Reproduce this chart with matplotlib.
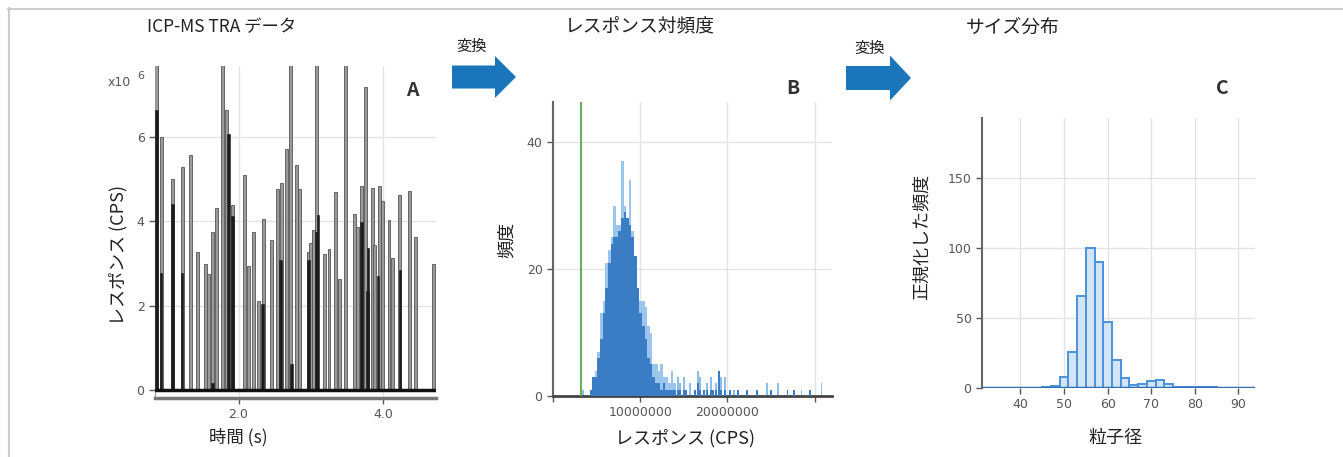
import numpy as np
import matplotlib
matplotlib.use("Agg")
import matplotlib.pyplot as plt
from matplotlib.patches import Polygon

plt.rcParams['font.family'] = ['Noto Sans CJK JP', 'DejaVu Sans']

# ---- panel A: TRA signal (time in s, response in 1e6 CPS)
gray_t = [0.86, 0.93, 1.09, 1.22, 1.33, 1.43, 1.54, 1.58, 1.64, 1.70,
          1.78, 1.83, 1.92, 2.08, 2.14, 2.21, 2.27, 2.35, 2.46, 2.54,
          2.60, 2.66, 2.72, 2.80, 2.84, 2.97, 2.99, 3.04, 3.08, 3.19,
          3.25, 3.34, 3.40, 3.48, 3.60, 3.65, 3.70, 3.76, 3.85, 3.88,
          3.95, 3.99, 4.08, 4.13, 4.23, 4.36, 4.45, 4.70]
gray_h = [8.5, 6.02, 5.02, 5.30, 5.58, 3.28, 2.98, 2.76, 3.75, 4.33,
          8.5, 6.65, 4.40, 5.11, 2.93, 3.75, 2.11, 4.07, 3.56, 4.77,
          4.91, 5.72, 8.5, 5.35, 4.77, 3.27, 3.50, 3.80, 8.5, 3.23,
          3.35, 4.69, 2.62, 8.5, 4.19, 3.87, 4.85, 7.21, 4.79, 3.43,
          4.85, 4.49, 4.03, 3.12, 4.63, 4.73, 3.63, 3.00]
dark_t = [0.865, 0.93, 1.09, 1.22, 1.64, 1.86, 1.92, 2.33, 2.58, 2.73,
          2.97, 3.08, 3.10, 3.70, 3.78, 3.79, 3.93, 4.23]
dark_h = [6.65, 2.78, 4.41, 2.78, 0.16, 6.08, 4.13, 2.03, 3.08, 0.61,
          3.08, 3.76, 4.15, 3.99, 2.35, 3.38, 2.70, 2.85]

# ---- panel B: response histogram (CPS, counts)
main_start = 4.2e6
main_width = 3e5
main_light = [1, 3, 4, 7, 13, 15, 21, 23, 25, 30, 27, 27, 37, 30, 28, 34, 26,
              20, 17, 15, 15, 14, 11, 10, 5, 5, 4, 5, 3, 3, 2, 4, 2]
main_dark = [1, 3, 3, 6, 9, 13, 17, 21, 24, 25, 25, 26, 28, 29, 28, 27, 25,
             22, 17, 13, 11, 9, 6, 5, 3, 2, 2, 1, 2, 1, 1, 1, 1]
tail_pos = [3.49e6, 14.3e6, 14.6e6, 15.0e6, 15.3e6, 15.7e6, 16.3e6, 16.6e6,
            16.9e6, 17.3e6, 17.7e6, 18.1e6, 18.4e6, 18.7e6, 19.0e6, 19.3e6,
            19.7e6, 20.3e6, 20.8e6, 21.2e6, 22.3e6, 23.4e6, 24.5e6, 25.0e6,
            25.8e6, 26.9e6, 27.6e6, 28.5e6, 29.5e6, 30.8e6]
tail_light = [1, 3, 2, 3, 1, 2, 1, 4, 3, 1, 2, 3, 1, 2, 4, 3, 3, 1, 1, 1,
              1, 1, 2, 1, 2, 1, 1, 1, 1, 2]
tail_dark = [0, 1, 1, 1, 1, 0, 1, 2, 1, 1, 1, 1, 1, 1, 4, 1, 1, 1, 0, 1,
             1, 1, 0, 1, 0, 1, 1, 0, 1, 0]
threshold = 3.18e6

# ---- panel C: size distribution
size_bins = [46, 48, 50, 52, 54, 56, 58, 60, 62, 64, 66, 68, 70, 72, 74,
             76, 78, 80, 82, 84]
size_freq = [0.4, 1.5, 8, 26, 66, 100, 90, 47, 20, 7, 2, 3, 5, 6, 3,
             1, 1, 1, 1, 1]

W, H = 1343, 457
fig = plt.figure(figsize=(W / 100, H / 100), dpi=100)
fig.patch.set_facecolor('white')


def px_axes(l, t, r, b):
    return fig.add_axes([l / W, 1 - b / H, (r - l) / W, (b - t) / H])


tick_font = dict(family=['Liberation Sans Narrow', 'DejaVu Sans'], size=9)
tick_col = '#555555'
grid_col = '#e3e3e3'


def style(ax):
    for s in ['top', 'right']:
        ax.spines[s].set_visible(False)
    ax.tick_params(colors=tick_col, length=4, width=1, labelsize=9)
    ax.grid(True, color=grid_col, lw=1)
    ax.set_axisbelow(True)
    for lab in ax.get_xticklabels() + ax.get_yticklabels():
        lab.set_fontfamily(tick_font['family'])


# panel A
axA = px_axes(155, 66, 436, 398)
axA.bar(gray_t, gray_h, width=0.04, color='#9a9a9a', edgecolor='#555555', lw=0.6, zorder=2)
axA.bar(dark_t, dark_h, width=0.035, color='#1c1c1c', edgecolor='#1c1c1c', lw=0.4, zorder=3)
axA.axhline(0, color='#111111', lw=2.5, zorder=4)
axA.set_xlim(0.845, 4.73)
axA.set_ylim(-0.2, 7.7)
axA.set_xticks([2.0, 4.0])
axA.set_xticklabels(['2.0', '4.0'])
axA.set_yticks([0, 2, 4, 6])
axA.spines['left'].set_color('#999999')
axA.spines['bottom'].set_color('#777777')
axA.spines['bottom'].set_linewidth(2.5)
style(axA)

# panel B
axB = px_axes(553, 102, 832, 396)
main_x = main_start + main_width * (np.arange(len(main_light)) + 0.5)
axB.bar(main_x, main_light, width=main_width, color='#9cc5ec', lw=0, zorder=2)
axB.bar(main_x, main_dark, width=main_width, color='#3a7dc4', lw=0, zorder=3)
axB.bar(tail_pos, tail_light, width=2.2e5, color='#8fbde9', lw=0, zorder=2)
axB.bar(tail_pos, tail_dark, width=2.2e5, color='#3a7dc4', lw=0, zorder=3)
axB.axvline(threshold, color='#6aaf5c', lw=1.5, zorder=4)
axB.set_xlim(0, 3.2e7)
axB.set_ylim(0, 46.3)
axB.set_xticks([0, 1e7, 2e7, 3e7])
axB.set_xticklabels(['', '10000000', '20000000', ''])
axB.set_yticks([0, 20, 40])
axB.spines['left'].set_color('#666666')
axB.spines['left'].set_linewidth(1.5)
axB.spines['bottom'].set_color('#444444')
axB.spines['bottom'].set_linewidth(2)
style(axB)

# panel C
axC = px_axes(982, 118, 1255, 388)
axC.bar(size_bins, size_freq, width=2, color='#d2e4f6', edgecolor='#4a93da', lw=1.4, zorder=2)
axC.axhline(0, color='#2f6fb5', lw=2.5, zorder=3)
axC.set_xlim(31.2, 93.8)
axC.set_ylim(0, 193)
axC.set_xticks([40, 50, 60, 70, 80, 90])
axC.set_yticks([0, 50, 100, 150])
axC.spines['left'].set_color('#666666')
axC.spines['left'].set_linewidth(1.5)
axC.spines['bottom'].set_visible(False)
style(axC)

# overlay for titles, labels, arrows
ov = fig.add_axes([0, 0, 1, 1])
ov.set_xlim(0, W)
ov.set_ylim(H, 0)
ov.axis('off')

ov.plot([8, W], [8.5, 8.5], color='#cccccc', lw=1.5)
ov.plot([8.5, 8.5], [8, H], color='#cccccc', lw=1.5)

txt = '#222222'
ov.text(222, 27, 'ICP-MS TRA データ', ha='center', va='center', fontsize=12.5, color=txt)
ov.text(640, 27, 'レスポンス対頻度', ha='center', va='center', fontsize=13.5, color=txt)
ov.text(1013, 27, 'サイズ分布', ha='center', va='center', fontsize=13.5, color=txt)

for x0, y0, lab in [(412, 90, 'A'), (793, 88, 'B'), (1222, 88, 'C')]:
    ov.text(x0, y0, lab, ha='center', va='center', fontsize=14, fontweight='bold', color='#333333')

ov.text(108, 82, 'x10', ha='left', va='center', fontsize=9, color=tick_col,
        family=tick_font['family'])
ov.text(141, 76, '6', ha='center', va='center', fontsize=8, color=tick_col,
        family=tick_font['family'])

ov.text(118, 255, 'レスポンス (CPS)', rotation=90, ha='center', va='center', fontsize=13, color=txt)
ov.text(238, 437, '時間 (s)', ha='center', va='center', fontsize=12.5, color=txt)
ov.text(507, 240, '頻度', rotation=90, ha='center', va='center', fontsize=13, color=txt)
ov.text(685, 438, 'レスポンス (CPS)', ha='center', va='center', fontsize=13, color=txt)
ov.text(922, 237, '正規化した頻度', rotation=90, ha='center', va='center', fontsize=13, color=txt)
ov.text(1115, 438, '粒子径', ha='center', va='center', fontsize=13, color=txt)

arrow_col = '#1b75bb'
for (tail, tip, head, cy, bh, hh, lx, ly) in [(452, 516, 495, 77, 11.5, 21, 472, 46),
                                              (846, 911, 890, 78, 12, 22.5, 870, 48)]:
    pts = [(tail, cy - bh), (head, cy - bh), (head, cy - hh), (tip, cy),
           (head, cy + hh), (head, cy + bh), (tail, cy + bh)]
    ov.add_patch(Polygon(pts, closed=True, color=arrow_col, lw=0))
    ov.text(lx, ly, '変換', ha='center', va='center', fontsize=11, color=txt)

fig.savefig('out.png', dpi=100)
